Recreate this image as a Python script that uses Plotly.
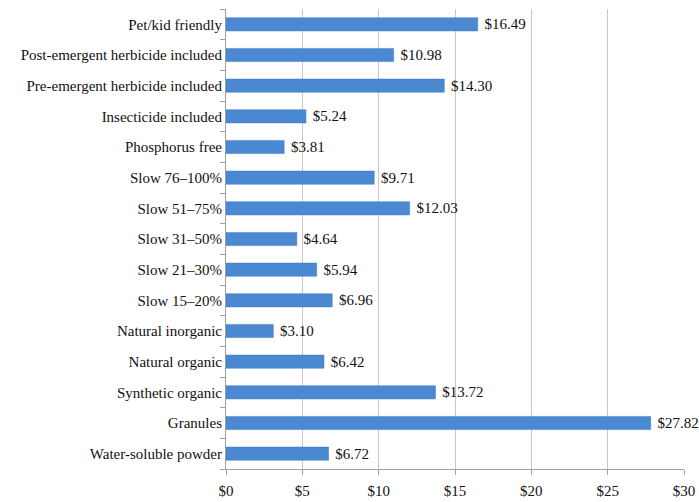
import plotly.graph_objects as go

categories = [
    "Pet/kid friendly",
    "Post-emergent herbicide included",
    "Pre-emergent herbicide included",
    "Insecticide included",
    "Phosphorus free",
    "Slow 76–100%",
    "Slow 51–75%",
    "Slow 31–50%",
    "Slow 21–30%",
    "Slow 15–20%",
    "Natural inorganic",
    "Natural organic",
    "Synthetic organic",
    "Granules",
    "Water-soluble powder",
]
values = [16.49, 10.98, 14.30, 5.24, 3.81, 9.71, 12.03, 4.64, 5.94, 6.96, 3.10, 6.42, 13.72, 27.82, 6.72]
tick_vals = [0, 5, 10, 15, 20, 25, 30]
tick_text = ["$" + str(v) for v in tick_vals]

font_family = "Liberation Serif, Times New Roman, serif"

fig = go.Figure(go.Bar(
    x=values,
    y=categories,
    orientation="h",
    width=0.43,
    marker=dict(color="#4A88D2", line=dict(color="#3F7CC4", width=0.5)),
    text=[" $%.2f" % v for v in values],
    textposition="outside",
    constraintext="none",
    textfont=dict(family=font_family, size=15, color="#111111"),
    cliponaxis=False,
))

fig.update_layout(
    width=699, height=502,
    margin=dict(l=226, r=15, t=9, b=33),
    paper_bgcolor="white", plot_bgcolor="white",
    showlegend=False,
    font=dict(family=font_family, size=15, color="#111111"),
    xaxis=dict(
        range=[0, 30], tickvals=tick_vals, ticktext=tick_text,
        showgrid=True, gridcolor="#C8C8C8", gridwidth=1,
        zeroline=False, showline=True, linecolor="#A0A0A0", linewidth=1,
        ticks="outside", ticklen=5, tickcolor="#A0A0A0", ticklabelstandoff=3,
        tickfont=dict(family=font_family, size=15, color="#111111"),
        automargin=False,
    ),
    yaxis=dict(
        categoryorder="array", categoryarray=categories[::-1],
        showgrid=False, zeroline=False, showline=True, linecolor="#A0A0A0", linewidth=1,
        ticks="outside", ticklen=5, tickcolor="#A0A0A0", tickson="boundaries",
        tickfont=dict(family=font_family, size=15, color="#111111"),
        range=[-0.5, 14.5], automargin=False,
    ),
    bargap=0.57,
)

fig.write_html("out.html")
